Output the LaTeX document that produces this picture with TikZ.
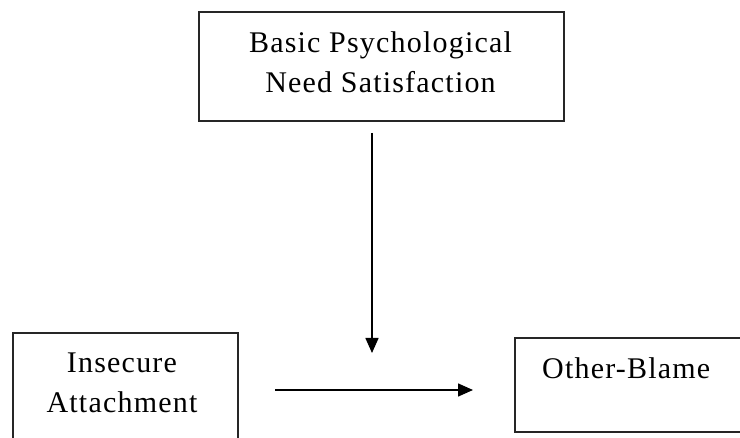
\documentclass[tikz,border=0pt]{standalone}
\usepackage{fontspec}
\setmainfont{Liberation Serif}[LetterSpace=4]
\usetikzlibrary{arrows.meta}
\tikzset{
  box/.style={draw=black!85, line width=1.6pt, rectangle, inner sep=0pt},
  lbl/.style={inner sep=0pt, align=center, font=\fontsize{30}{40}\selectfont, text=black},
  arr/.style={draw=black, line width=1.5pt, -{Triangle[length=15pt,width=13pt]}}
}
\begin{document}
\begin{tikzpicture}[x=1pt,y=-1pt]
\useasboundingbox (0,0) rectangle (740,438);
\fill[white] (0,0) rectangle (740,438);
\clip (0,0) rectangle (740,438);
% boxes
\node[box, anchor=north west, minimum width=365pt, minimum height=109pt] (need) at (198,11) {};
\node[box, anchor=north west, minimum width=225pt, minimum height=130pt] (ia) at (12,332) {};
\node[box, anchor=north west, minimum width=250pt, minimum height=94pt] (ob) at (514,337) {};
% labels
\node[lbl, anchor=north] (needtext) at (380.5,31.5) {Basic Psychological\\Need Satisfaction};
\node[lbl, anchor=north] (iatext) at (122,353) {Insecure\\Attachment};
\node[lbl, anchor=north west] (obtext) at (542,357.5) {Other-Blame};
% connectors
\coordinate (vs) at (372,133);
\coordinate (ve) at (372,353);
\coordinate (hs) at (275,390);
\coordinate (he) at (473,390);
\draw[arr] (vs) -- (ve);
\draw[arr] (hs) -- (he);
\end{tikzpicture}
\end{document}
